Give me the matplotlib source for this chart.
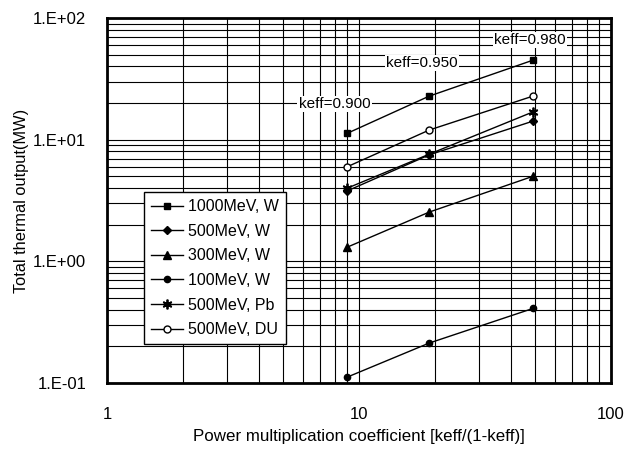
"""Total thermal output vs power multiplication coefficient."""

import math

import matplotlib
matplotlib.use("Agg")
import matplotlib.pyplot as plt
from matplotlib.ticker import FixedLocator, FuncFormatter, LogLocator, NullFormatter

plt.rcParams["font.family"] = ["Liberation Sans", "DejaVu Sans"]

# power multiplication coefficient M = keff/(1-keff) for keff = 0.90, 0.95, 0.98
mult = [9, 19, 49]

labels = ["1000MeV, W", "500MeV, W", "300MeV, W", "100MeV, W", "500MeV, Pb", "500MeV, DU"]
p_1000_w = [11.3, 22.8, 45.0]
p_500_w = [3.8, 7.5, 14.2]
p_300_w = [1.31, 2.54, 5.0]
p_100_w = [0.112, 0.213, 0.41]
p_500_pb = [4.0, 7.6, 16.9]
p_500_du = [6.0, 12.0, 22.8]

keff_labels = ["keff=0.900", "keff=0.950", "keff=0.980"]

series = [p_1000_w, p_500_w, p_300_w, p_100_w, p_500_pb, p_500_du]
markers = [
    dict(marker="s", ms=5, mfc="black"),
    dict(marker="D", ms=4.5, mfc="black"),
    dict(marker="^", ms=5.5, mfc="black"),
    dict(marker="o", ms=4.5, mfc="black"),
    dict(marker=(6, 2, 0), ms=7, mew=1.3),
    dict(marker="o", ms=5, mfc="white"),
]

fig = plt.figure(figsize=(6.28, 4.51), dpi=100)
ax = fig.add_axes([107 / 628, 68 / 451, 504 / 628, 365 / 451])

for vals, lab, mk in zip(series, labels, markers):
    ax.plot(mult, vals, "-", color="black", lw=1.0, mec="black", label=lab, **mk)

ax.set_xscale("log")
ax.set_yscale("log")
ax.set_xlim(1, 100)
ax.set_ylim(0.1, 100)

ax.xaxis.set_major_locator(FixedLocator([1, 10, 100]))
ax.xaxis.set_minor_locator(LogLocator(base=10, subs=range(2, 10)))
ax.xaxis.set_minor_formatter(NullFormatter())
ax.xaxis.set_major_formatter(FuncFormatter(lambda v, p: f"{v:g}"))
ax.yaxis.set_major_locator(FixedLocator([0.1, 1, 10, 100]))
ax.yaxis.set_minor_locator(LogLocator(base=10, subs=range(2, 10)))
ax.yaxis.set_minor_formatter(NullFormatter())
ax.yaxis.set_major_formatter(FuncFormatter(lambda v, p: "1.E{:+03d}".format(int(round(math.log10(v))))))

ax.grid(True, which="both", color="black", lw=0.8)
ax.tick_params(which="both", length=0, labelsize=12)
ax.tick_params(axis="x", pad=17)
ax.tick_params(axis="y", pad=15)
for sp in ax.spines.values():
    sp.set_linewidth(2)

ax.set_xlabel("Power multiplication coefficient [keff/(1-keff)]", fontsize=12.2, labelpad=5)
ax.set_ylabel("Total thermal output(MW)", fontsize=11.8, labelpad=3)

# keff annotations above each column of points
box = dict(facecolor="white", edgecolor="none", pad=1)
ax.text(8.0, 19.6, keff_labels[0], ha="center", va="center", fontsize=11, bbox=box)
ax.text(17.8, 42.6, keff_labels[1], ha="center", va="center", fontsize=11, bbox=box)
ax.text(47.7, 65.8, keff_labels[2], ha="center", va="center", fontsize=11, bbox=box)

leg = ax.legend(loc="upper left", bbox_to_anchor=(0.073, 0.523), borderaxespad=0,
                fontsize=11.5, frameon=True, fancybox=False, framealpha=1, edgecolor="black",
                handlelength=2.0, borderpad=0.45, labelspacing=0.6, handletextpad=0.3)
leg.get_frame().set_linewidth(1.0)

fig.savefig("out.png", dpi=100)
